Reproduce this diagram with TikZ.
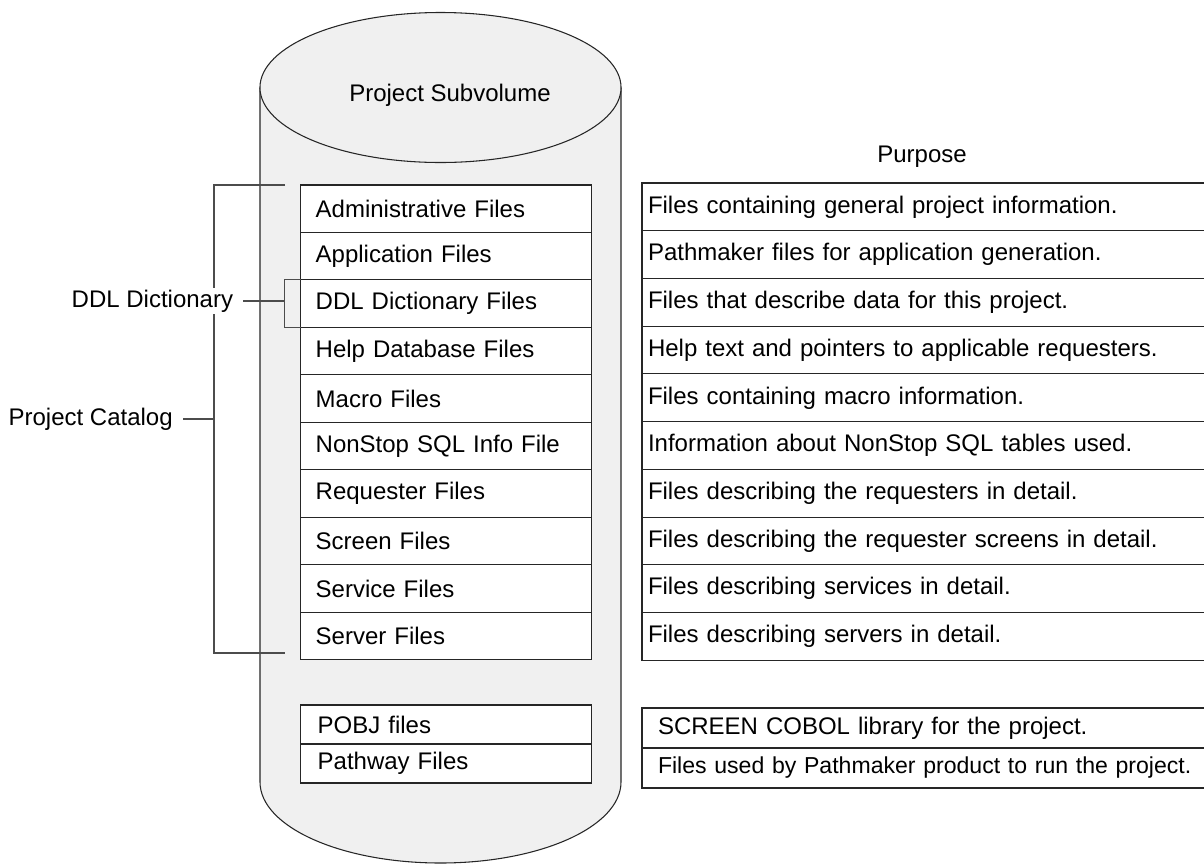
\documentclass[tikz,border=0pt]{standalone}
\usepackage{fontspec}
\setmainfont{Liberation Sans}
\usepackage{tikz}
\usetikzlibrary{positioning}
\tikzstyle{filebox}=[rectangle, draw=black!85, fill=white, line width=0.8pt, outer sep=0pt, minimum height=35.6pt, text width=195.75pt, inner xsep=11.25pt, inner ysep=0pt, align=left]
\tikzstyle{purposebox}=[rectangle, draw=black!85, fill=white, line width=0.8pt, outer sep=0pt, minimum height=35.8pt, text width=414pt, inner xsep=4.5pt, inner ysep=0pt, align=left]
\tikzstyle{runbox}=[filebox, minimum height=29.25pt, text width=192.75pt, inner xsep=12.75pt]
\tikzstyle{runpurpose}=[purposebox, minimum height=30pt, text width=399pt, inner xsep=12pt]
\tikzstyle{bracket}=[draw=black!70, line width=0.8pt]
\tikzstyle{sidelabel}=[fill=white, inner xsep=7.5pt, inner ysep=1pt, anchor=east]

\begin{document}
\begin{tikzpicture}[x=0.75pt, y=-0.75pt, node distance=0pt, font=\fontsize{18pt}{21pt}\selectfont]
      \useasboundingbox (0,0) rectangle (1204,865);

      % subvolume drum
      \filldraw[fill=gray!12, draw=black!85, line width=0.8pt] (260,87.5) -- (260,782)
        .. controls (260,826.7) and (340.8,863) .. (440.5,863)
        .. controls (540.2,863) and (621,826.7) .. (621,782) -- (621,87.5);
      \filldraw[fill=gray!12, draw=black!85, line width=0.8pt] (440.5,87.5) ellipse [x radius=135.4pt, y radius=56.25pt];
      \node (vol) at (450,95) {Project Subvolume};

      \node (purp) at (922,157) {Purpose};

      % catalog files
      \node[filebox, anchor=north west] (adm) at (300.7,185) {Administrative Files};
      \node[filebox] (app)  [below=of adm]  {Application Files};
      \node[filebox] (ddl)  [below=of app]  {DDL Dictionary Files};
      \node[filebox] (help) [below=of ddl]  {Help Database Files};
      \node[filebox] (mac)  [below=of help] {Macro Files};
      \node[filebox] (sql)  [below=of mac]  {NonStop SQL Info File};
      \node[filebox] (req)  [below=of sql]  {Requester Files};
      \node[filebox] (scr)  [below=of req]  {Screen Files};
      \node[filebox] (svc)  [below=of scr]  {Service Files};
      \node[filebox] (srv)  [below=of svc]  {Server Files};

      \node[purposebox, anchor=north west] (padm) at (642,183) {Files containing general project information.};
      \node[purposebox] (papp)  [below=of padm]  {Pathmaker files for application generation.};
      \node[purposebox] (pddl)  [below=of papp]  {Files that describe data for this project.};
      \node[purposebox] (phelp) [below=of pddl]  {Help text and pointers to applicable requesters.};
      \node[purposebox] (pmac)  [below=of phelp] {Files containing macro information.};
      \node[purposebox] (psql)  [below=of pmac]  {Information about NonStop SQL tables used.};
      \node[purposebox] (preq)  [below=of psql]  {Files describing the requesters in detail.};
      \node[purposebox] (pscr)  [below=of preq]  {Files describing the requester screens in detail.};
      \node[purposebox] (psvc)  [below=of pscr]  {Files describing services in detail.};
      \node[purposebox] (psrv)  [below=of psvc]  {Files describing servers in detail.};

      % run-time files
      \node[runbox, anchor=north west] (pobj) at (300.7,705) {POBJ files};
      \node[runbox] (pway) [below=of pobj] {Pathway Files};
      \node[runpurpose, anchor=north west] (ppobj) at (642,708) {SCREEN COBOL library for the project.};
      \node[runpurpose, font=\fontsize{17.3pt}{21pt}\selectfont] (ppway) [below=of ppobj] {\mbox{Files used by Pathmaker product to run the project.}};

      % brackets
      \coordinate (catTopEnd) at (285,185);
      \coordinate (catTop)    at (214,185);
      \coordinate (catMid)    at (214,419);
      \coordinate (catBot)    at (214,653);
      \coordinate (catBotEnd) at (285,653);
      \draw[bracket] (catTopEnd) -- (catTop) -- (catBot) -- (catBotEnd);
      \node[sidelabel] (cat) at (183,419) {Project Catalog};
      \draw[bracket] (cat) -- (catMid);

      \coordinate (ddlTick) at ([xshift=-12pt]ddl.west);
      \draw[bracket] (ddl.north west) -- ++(-16,0) |- (ddl.south west);
      \node[sidelabel] (ddllab) at ([xshift=-43pt, yshift=2pt]ddl.west) {DDL Dictionary};
      \draw[bracket] (ddllab) -- (ddlTick |- ddllab);
    \end{tikzpicture}
\end{document}
